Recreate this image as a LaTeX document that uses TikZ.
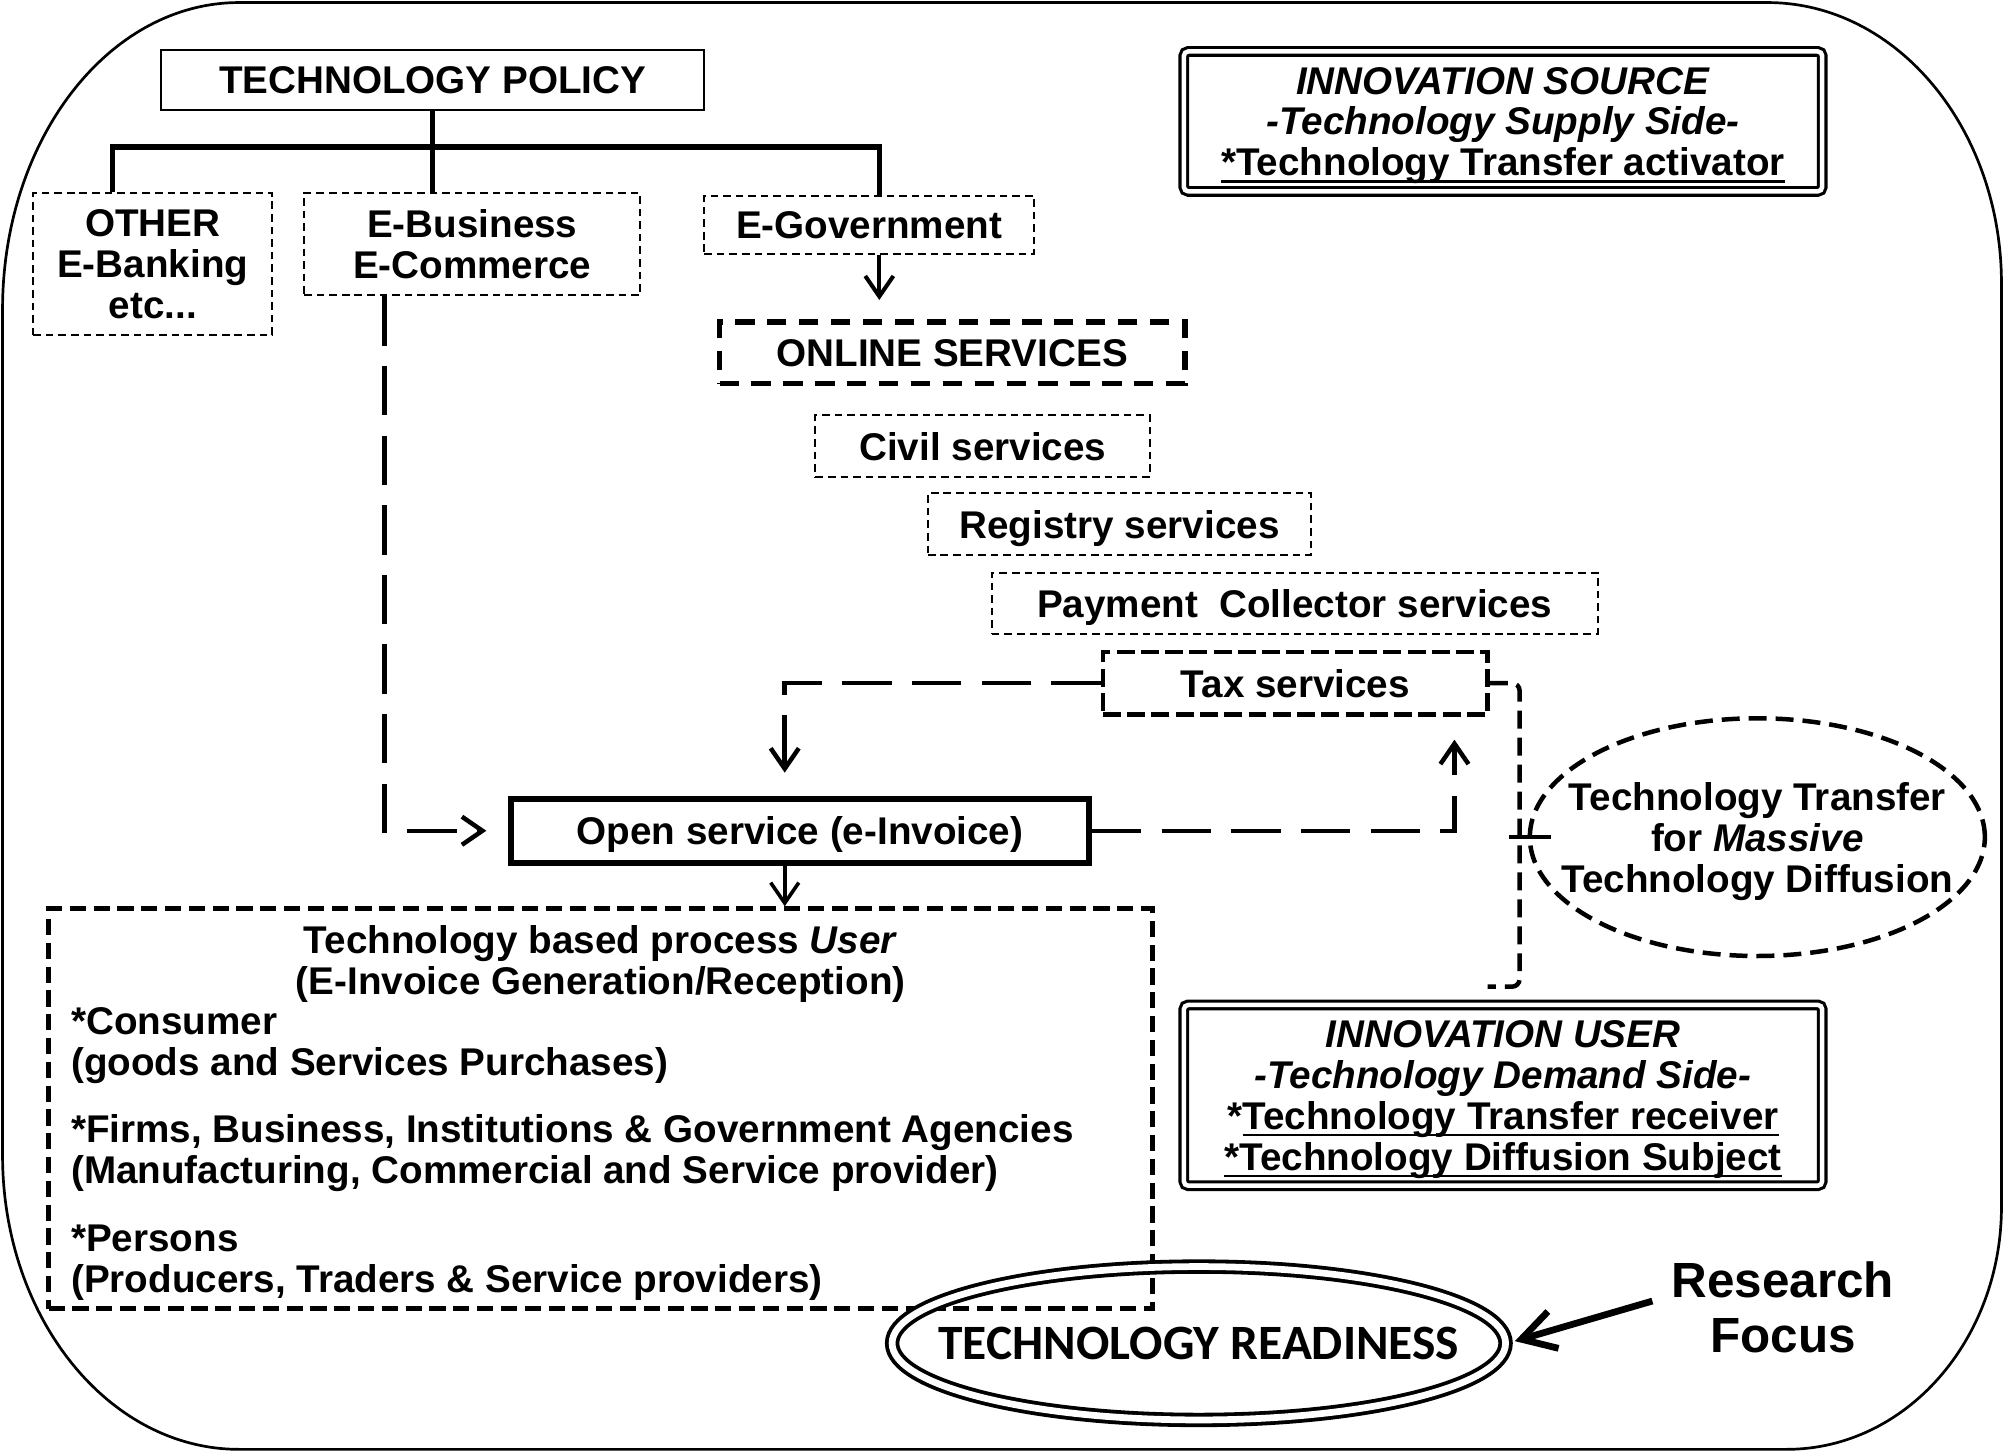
\documentclass[tikz,border=0pt]{standalone}
\usepackage{fontspec}
\setmainfont{Liberation Sans}
\newfontfamily\readyfont{Carlito}
\usetikzlibrary{arrows.meta,shapes.geometric,positioning}
\newcommand{\boxfont}{\fontsize{8.6}{9.1}\selectfont\bfseries}
\newlength{\undlen}
\newcommand{\undl}[1]{\settowidth{\undlen}{#1}\rlap{\rule[-1.6pt]{\undlen}{0.6pt}}#1}

\begin{document}
\begin{tikzpicture}[>={Straight Barb[length=1.6mm,width=2.2mm]},
  every node/.style={font=\boxfont, align=center, inner sep=0pt, text depth=0pt},
  plainbox/.style={draw, line width=0.5pt},
  thinbox/.style={draw, line width=0.45pt, dash pattern=on 1.7pt off 1.1pt},
  onlinebox/.style={draw, line width=1.3pt, dash pattern=on 4.3pt off 2.8pt},
  taxbox/.style={draw, line width=1pt, dash pattern=on 4pt off 1.4pt},
  openbox/.style={draw, line width=1.4pt},
  userbox/.style={draw, line width=1.1pt, dash pattern=on 3.6pt off 1.7pt},
  sidebox/.style={draw, line width=0.7pt, double, double distance=1pt, rounded corners=1pt},
  tree/.style={line width=1.2pt},
  longdash/.style={line width=1pt, dash pattern=on 11pt off 4.5pt},
  taxline/.style={line width=1pt, dash pattern=on 4pt off 2pt}]

\useasboundingbox (0,0) rectangle (15.68,11.36);
% outer frame
\draw[line width=0.6pt] (1.87,11.34) -- (13.83,11.34)
  arc[start angle=90, end angle=0, x radius=1.83, y radius=2.2] -- (15.66,1.92)
  arc[start angle=0, end angle=-90, x radius=1.68, y radius=1.9] -- (1.87,0.02)
  arc[start angle=270, end angle=180, x radius=1.85, y radius=2.3] -- (0.02,8.94)
  arc[start angle=180, end angle=90, x radius=1.85, y radius=2.4] -- cycle;

\node[plainbox, minimum width=4.25cm, minimum height=0.47cm] (policy) at (3.385,10.735) {TECHNOLOGY POLICY};
\node[thinbox, minimum width=1.87cm, minimum height=1.11cm] (other) at (1.195,9.295) {OTHER\\E-Banking\\etc...};
\node[thinbox, minimum width=2.63cm, minimum height=0.80cm] (ebiz) at (3.695,9.45) {E-Business\\E-Commerce};
\node[thinbox, minimum width=2.58cm, minimum height=0.46cm] (egov) at (6.80,9.60) {E-Government};
\node[onlinebox, minimum width=3.64cm, minimum height=0.48cm] (online) at (7.45,8.60) {ONLINE SERVICES};
\node[thinbox, minimum width=2.62cm, minimum height=0.48cm] (civil) at (7.69,7.87) {Civil services};
\node[thinbox, minimum width=3.00cm, minimum height=0.48cm] (registry) at (8.76,7.26) {Registry services};
\node[thinbox, minimum width=4.74cm, minimum height=0.48cm] (payment) at (10.13,6.64) {Payment\ \ Collector services};
\node[taxbox, minimum width=3.01cm, minimum height=0.49cm] (tax) at (10.135,6.015) {Tax services};
\node[openbox, minimum width=4.52cm, minimum height=0.50cm] (open) at (6.26,4.86) {Open service (e-Invoice)};

\node[userbox, minimum width=8.64cm, minimum height=3.13cm] (usr) at (4.70,2.685) {};
\node (usrtitle) at (4.70,3.85) {Technology based process \textit{User}\\(E-Invoice Generation/Reception)};
\node[anchor=north west, align=left] (usrlist) at (0.55,3.485) {*Consumer\\(goods and Services Purchases)\\[0.21cm]
  *Firms, Business, Institutions \& Government Agencies\\(Manufacturing, Commercial and Service provider)\\[0.21cm]
  *Persons\\(Producers, Traders \& Service providers)};

\node[draw, ellipse, line width=1pt, dash pattern=on 4pt off 2pt, minimum width=3.56cm, minimum height=1.86cm,
  inner xsep=-0.4cm] (transfer) at (13.75,4.81) {Technology Transfer\\for \textit{Massive}\\Technology Diffusion};

\node[sidebox, minimum width=4.995cm, minimum height=1.095cm] (source) at (11.76,10.41)
  {\textit{INNOVATION SOURCE}\\\textit{-Technology Supply Side-}\\\undl{*Technology Transfer activator}};
\node[sidebox, minimum width=4.995cm, minimum height=1.415cm] (iuser) at (11.76,2.79)
  {\textit{INNOVATION USER}\\\textit{-Technology Demand Side-}\\*\undl{Technology Transfer receiver}\\\undl{*Technology Diffusion Subject}};

\node[draw, ellipse, double, line width=0.85pt, double distance=1.5pt, minimum width=4.8cm, minimum height=1.2cm,
  inner xsep=-0.6cm, font=\readyfont\bfseries\fontsize{11}{12}\selectfont] (ready) at (9.38,0.85) {TECHNOLOGY READINESS};
\node[font=\fontsize{11}{12.2}\selectfont\bfseries] (focus) at (13.95,1.13) {Research\\Focus};

% tree under the policy
\coordinate (barl) at (0.88,10.21);
\coordinate (barr) at (6.88,10.21);
\draw[tree] (barl |- other.north) -- (barl) -- (barr) -- (barr |- egov.north);
\draw[tree] (policy.south) -- (policy.south |- ebiz.north);
\draw[->, line width=0.9pt, shorten >=0.15cm] (barr |- egov.south) -- (barr |- online.north);

% flows round the open service
\coordinate (ebizleg) at (3.01,9.45);
\draw[longdash, ->, shorten >=0.17cm] (ebizleg |- ebiz.south) |- (open.west);
\draw[longdash, ->, shorten >=0.18cm] (tax.west) -| ([xshift=-0.12cm]open.north);
\draw[longdash, ->, shorten >=0.18cm] (open.east) -| ([xshift=1.245cm]tax.south);
\draw[->, line width=0.8pt] ([xshift=-0.12cm]open.south) -- ([xshift=-0.12cm]open.south |- usr.north);

% transfer line to the user side
\coordinate (tick) at (11.89,4.81);
\draw[taxline, rounded corners=0.06cm] (tax.east) -| (tick) |- ([xshift=-0.12cm,yshift=0.13cm]iuser.north);
\draw[line width=1pt, shorten <=-0.08cm, shorten >=-0.18cm] (tick) -- (transfer.west);

\draw[line width=1.5pt, -{Straight Barb[length=2.6mm,width=3mm]}, shorten <=0.15cm, shorten >=0.06cm] (focus.174) -- (ready.east);
\end{tikzpicture}
\end{document}
